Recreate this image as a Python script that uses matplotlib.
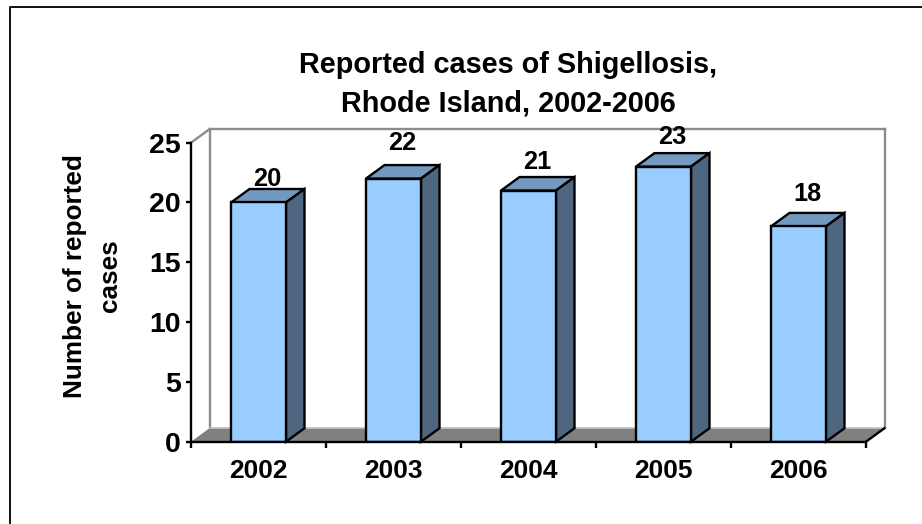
import matplotlib
matplotlib.use("Agg")
import matplotlib.pyplot as plt
from matplotlib.patches import Polygon

years = ["2002", "2003", "2004", "2005", "2006"]
cases = [20, 22, 21, 23, 18]
y_ticks = [0, 5, 10, 15, 20, 25]
# hand nudges of the value labels above each bar (pixels at 100 dpi)
label_lift = [23.5, 35.5, 28.5, 30, 32]

plt.rcParams['font.family'] = ['Liberation Sans', 'DejaVu Sans']
plt.rcParams['font.weight'] = 'bold'

W, H = 922, 524
fig = plt.figure(figsize=(W / 100, H / 100), dpi=100)
fig.patch.set_facecolor('white')

# outer frame, runs off the right and bottom of the picture
fig.add_artist(plt.Line2D([9.5 / W, 9.5 / W, 1.0], [0, 1 - 6.5 / H, 1 - 6.5 / H],
                          color='#111111', lw=1.4, transform=fig.transFigure))

ax = fig.add_axes([191 / W, (H - 441.7) / H, 675 / W, 299 / H])
ax.set_xlim(0, len(years))
ax.set_ylim(0, 25)
ax.patch.set_visible(False)
for s in ['top', 'right']:
    ax.spines[s].set_visible(False)
for s in ['left', 'bottom']:
    ax.spines[s].set_linewidth(1.7)
    ax.spines[s].set_zorder(6)

# depth of the fake 3D box, in data units
dx = 18.5 / 135
dy = 13.5 / (299 / 25)
n = len(years)

# floor and back wall
ax.add_patch(Polygon([(0, 0), (n, 0), (n + dx, dy), (dx, dy)], closed=True,
                     facecolor='#808080', edgecolor='none', clip_on=False, zorder=1))
ax.plot([dx, dx], [dy, 25 + dy], color='#8c8c8c', lw=1.7, clip_on=False, zorder=1)
ax.plot([dx, n + dx], [25 + dy, 25 + dy], color='#8c8c8c', lw=1.7, clip_on=False, zorder=1)
ax.plot([n + dx, n + dx], [dy, 25 + dy], color='#8c8c8c', lw=1.7, clip_on=False, zorder=1)
ax.plot([0, dx], [25, 25 + dy], color='#8c8c8c', lw=1.7, clip_on=False, zorder=1)
ax.plot([dx, n + dx], [dy, dy], color='#c0c0c0', lw=1.2, clip_on=False, zorder=1)
ax.plot([n, n + dx], [0, dy], color='black', lw=1.7, clip_on=False, zorder=2)

# bars: front face from ax.bar, top and side added as polygons
bw = 55 / 135
pos = [i + 0.5 for i in range(n)]
ax.bar(pos, cases, width=bw, color='#99CCFF', edgecolor='black', linewidth=1.7, zorder=4)
for p, v in zip(pos, cases):
    l, r = p - bw / 2, p + bw / 2
    ax.add_patch(Polygon([(l, v), (r, v), (r + dx, v + dy), (l + dx, v + dy)], closed=True,
                         facecolor='#7299BF', edgecolor='black', lw=1.7,
                         joinstyle='miter', clip_on=False, zorder=3))
    ax.add_patch(Polygon([(r, 0), (r, v), (r + dx, v + dy), (r + dx, dy)], closed=True,
                         facecolor='#4F6680', edgecolor='black', lw=1.7,
                         joinstyle='miter', clip_on=False, zorder=3))

for p, v, lift in zip(pos, cases, label_lift):
    ax.annotate(str(v), xy=(p, v), xytext=(8.5 * 0.72, lift * 0.72), textcoords='offset points',
                ha='center', va='center', fontsize=18.3, fontweight='bold', zorder=7)

ax.set_yticks(y_ticks)
ax.set_xticks(range(n + 1))
ax.set_xticklabels([])
ax.set_xticks(pos, labels=years, minor=True)
ax.tick_params(axis='x', which='major', length=4, width=1.7, direction='out')
ax.tick_params(axis='x', which='minor', length=0, pad=12.5, labelsize=19)
ax.tick_params(axis='y', length=3.5, width=1.7, direction='out', pad=4, labelsize=20.5)
for lab in ax.get_xticklabels(minor=True) + ax.get_yticklabels():
    lab.set_fontweight('bold')

fig.text(508 / W, 1 - 65 / H, "Reported cases of Shigellosis,", ha='center', va='center',
         fontsize=20.8, fontweight='bold')
fig.text(508 / W, 1 - 104 / H, "Rhode Island, 2002-2006", ha='center', va='center',
         fontsize=20.8, fontweight='bold')
fig.text(75 / W, 1 - 276 / H, "Number of reported", rotation=90, ha='center', va='center',
         fontsize=18.8, fontweight='bold')
fig.text(110 / W, 1 - 276 / H, "cases", rotation=90, ha='center', va='center',
         fontsize=18.8, fontweight='bold')

fig.savefig("out.png", dpi=100)
